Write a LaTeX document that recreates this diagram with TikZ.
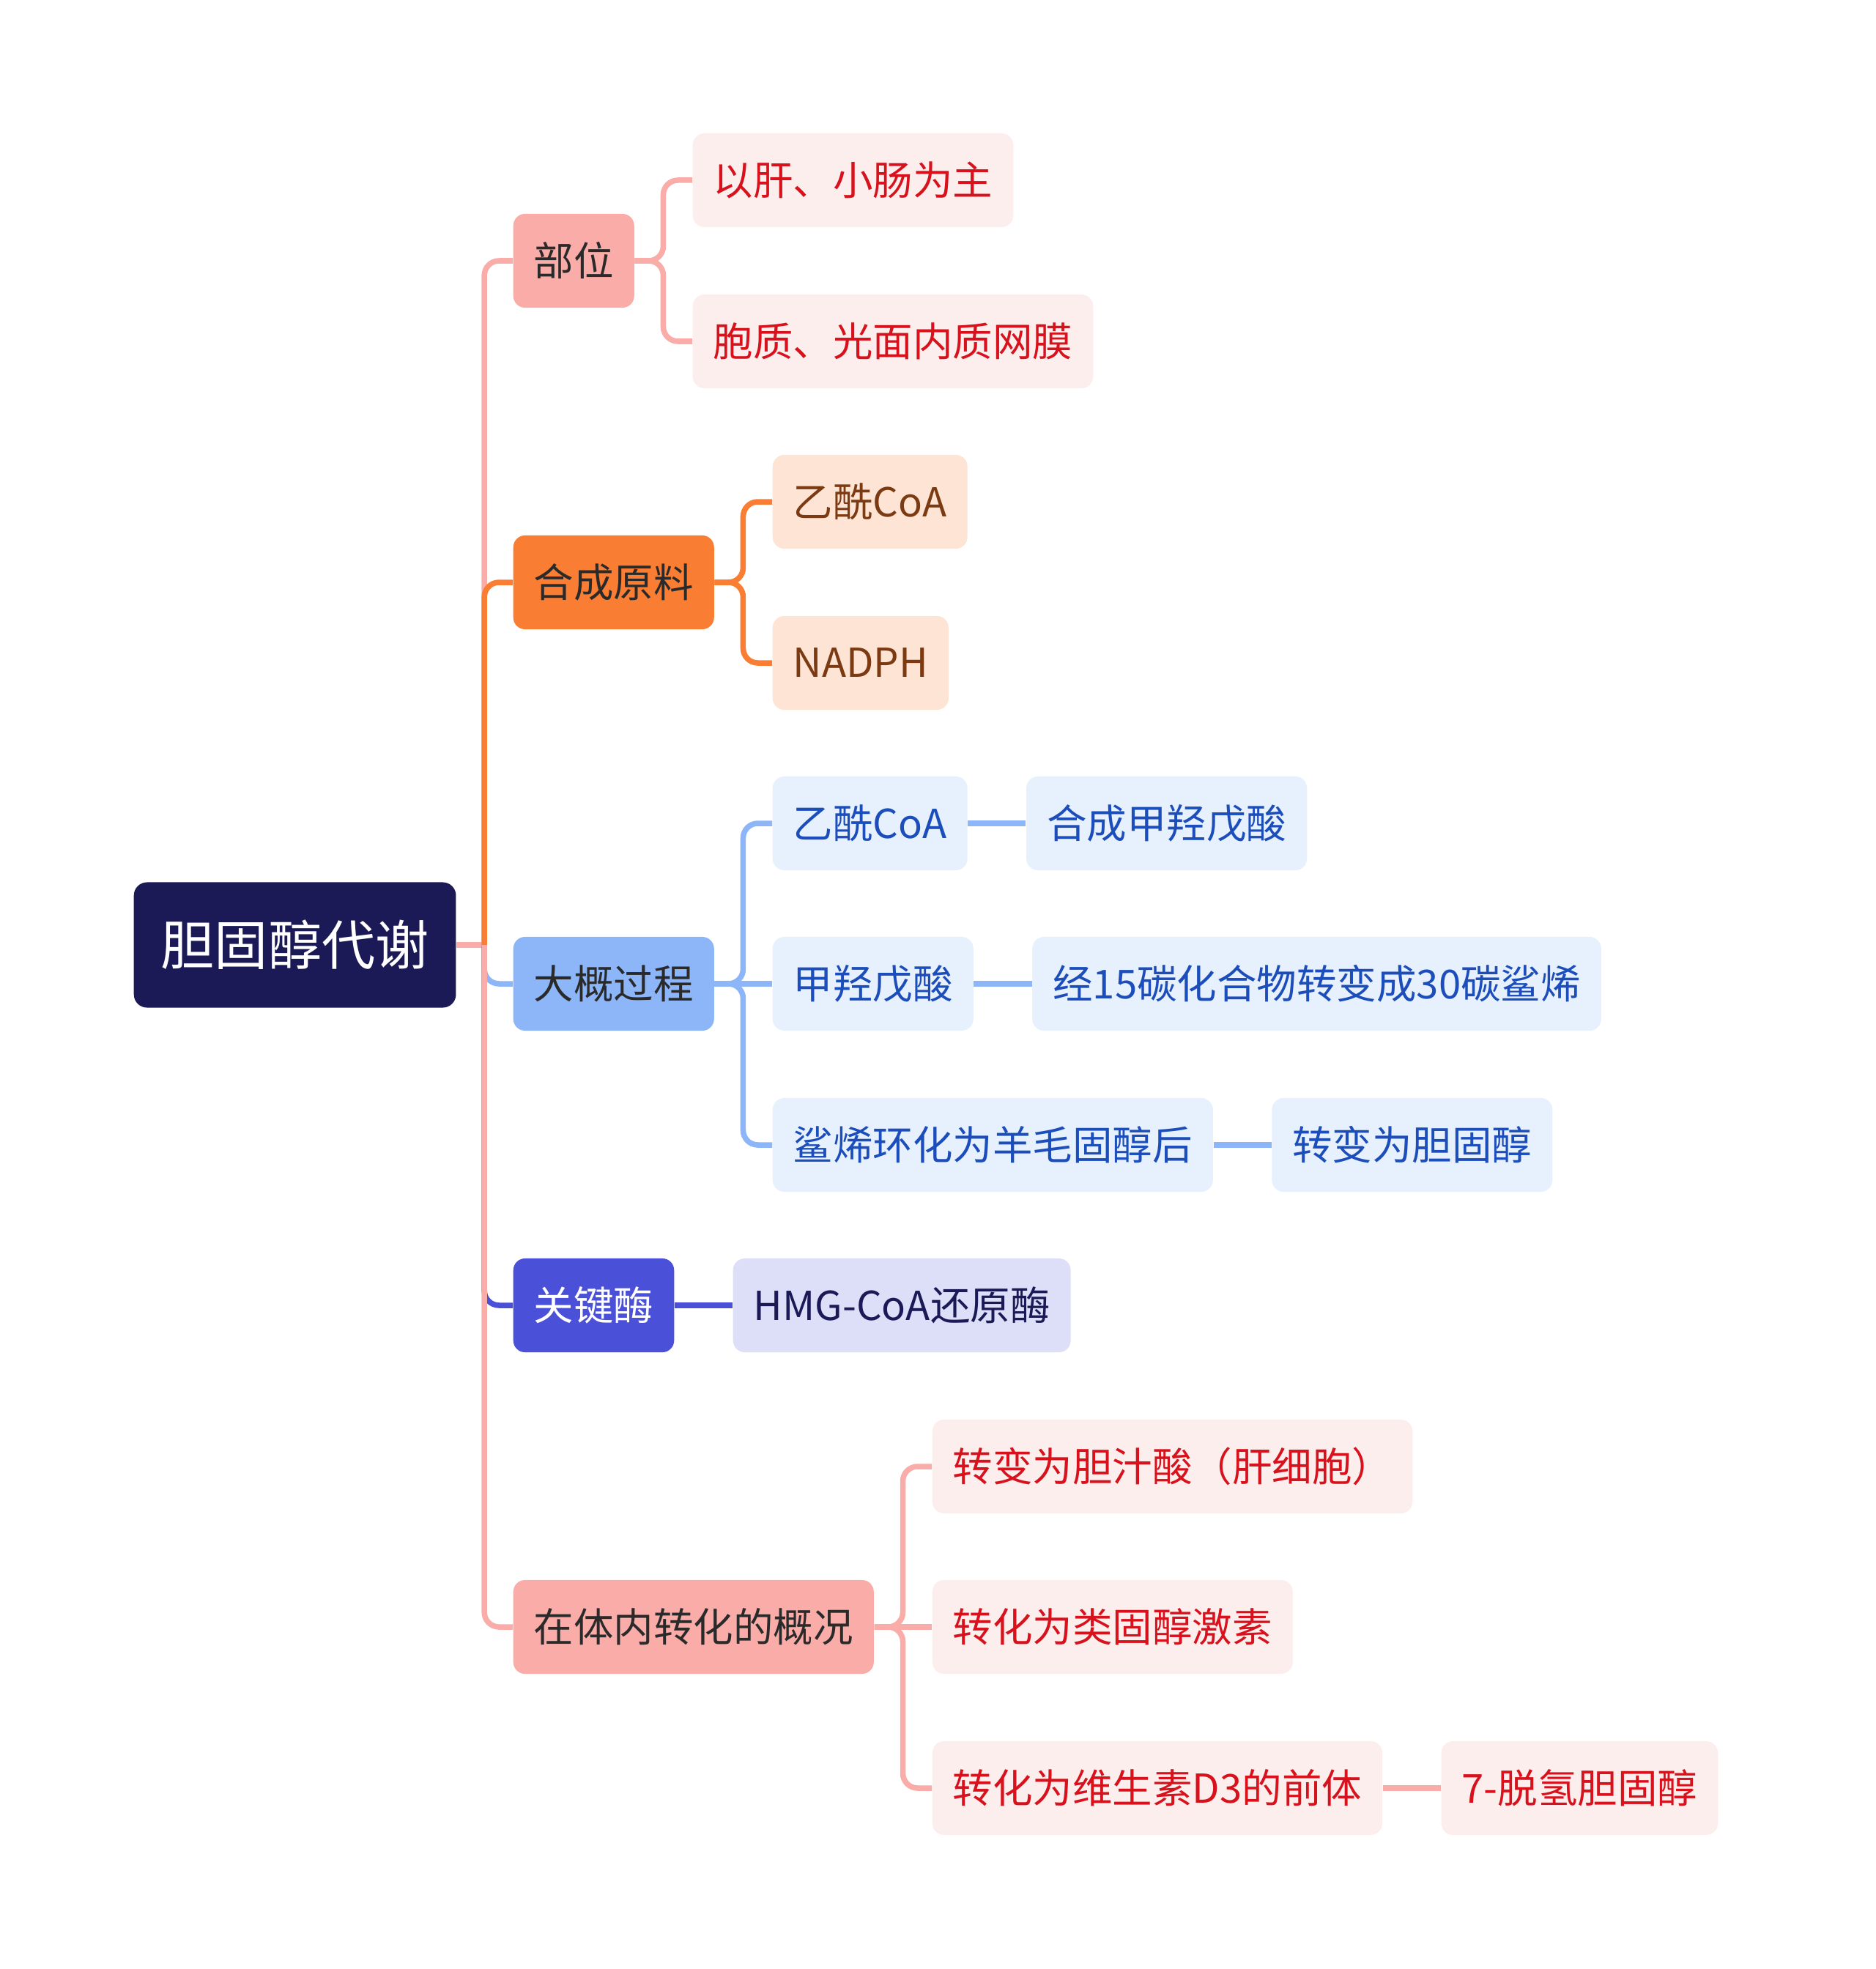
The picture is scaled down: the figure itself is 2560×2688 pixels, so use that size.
\documentclass[tikz,border=0pt]{standalone}
\usepackage{fontspec}
\setmainfont{Noto Sans CJK SC}
\usepackage{tikz}
\usetikzlibrary{positioning, calc}
\definecolor{dz-navy}{HTML}{1B1A57}
\definecolor{dz-pink}{HTML}{F9ACA8}
\definecolor{dz-orange}{HTML}{F97E34}
\definecolor{dz-blue}{HTML}{8DB6F8}
\definecolor{dz-indigo}{HTML}{4B50D8}
\definecolor{dz-dark}{HTML}{2A2A2A}
\definecolor{dz-pinklight}{HTML}{FDEEEE}
\definecolor{dz-red}{HTML}{D8121C}
\definecolor{dz-orangelight}{HTML}{FEE4D5}
\definecolor{dz-brown}{HTML}{7B3A12}
\definecolor{dz-bluelight}{HTML}{E7F0FD}
\definecolor{dz-bluetext}{HTML}{1B4DBB}
\definecolor{dz-indigolight}{HTML}{DDDEF8}

\begin{document}
\begin{tikzpicture}[
	x=0.01cm, y=-0.01cm,
	rootbox/.style={
		fill=dz-navy, text=white, anchor=west,
		rounded corners=0.18cm, minimum height=1.71cm, inner xsep=0.37cm,
		font=\fontsize{20.8}{25}\selectfont
	},
	topic/.style={
		anchor=west, rounded corners=0.16cm,
		minimum height=1.28cm, inner xsep=0.28cm,
		font=\fontsize{15.5}{18}\selectfont
	},
	mainpk/.style={topic, fill=dz-pink, text=dz-dark},
	mainor/.style={topic, fill=dz-orange, text=dz-dark},
	mainbl/.style={topic, fill=dz-blue, text=dz-dark},
	mainin/.style={topic, fill=dz-indigo, text=white},
	leafpk/.style={topic, fill=dz-pinklight, text=dz-red},
	leafor/.style={topic, fill=dz-orangelight, text=dz-brown},
	leafbl/.style={topic, fill=dz-bluelight, text=dz-bluetext},
	leafin/.style={topic, fill=dz-indigolight, text=dz-navy},
	link/.style={line width=0.075cm, rounded corners=0.2cm},
	linkpk/.style={link, draw=dz-pink},
	linkor/.style={link, draw=dz-orange},
	linkbl/.style={link, draw=dz-blue},
	linkin/.style={link, draw=dz-indigo}
	]
	
	\useasboundingbox (0,0) rectangle (2560,2688);
	
	% root and main topics
	\node[rootbox] (root) at (182,1290) {胆固醇代谢};
	\node[mainpk] (bw) at (700,356) {部位};
	\node[mainor] (yl) at (700,795) {合成原料};
	\node[mainbl] (gc) at (700,1343) {大概过程};
	\node[mainin] (mj) at (700,1782) {关键酶};
	\node[mainpk] (zh) at (700,2221) {在体内转化的概况};
	
	% subtopics
	\node[leafpk] (bw1) at (945,246) {以肝、小肠为主};
	\node[leafpk] (bw2) at (945,466) {胞质、光面内质网膜};
	
	\node[leafor] (yl1) at (1054,685) {乙酰CoA};
	\node[leafor] (yl2) at (1054,905) {NADPH};
	
	\node[leafbl] (gc1) at (1054,1124) {乙酰CoA};
	\node[leafbl, right=0.79cm of gc1] (gc1a) {合成甲羟戊酸};
	\node[leafbl] (gc2) at (1054,1343) {甲羟戊酸};
	\node[leafbl, right=0.79cm of gc2] (gc2a) {经15碳化合物转变成30碳鲨烯};
	\node[leafbl] (gc3) at (1054,1563) {鲨烯环化为羊毛固醇后};
	\node[leafbl, right=0.79cm of gc3] (gc3a) {转变为胆固醇};
	
	\node[leafin] (mj1) at (1000,1782) {HMG-CoA还原酶};
	
	\node[leafpk] (zh1) at (1272,2002) {转变为胆汁酸（肝细胞）};
	\node[leafpk] (zh2) at (1272,2221) {转化为类固醇激素};
	\node[leafpk] (zh3) at (1272,2441) {转化为维生素D3的前体};
	\node[leafpk, right=0.79cm of zh3] (zh3a) {7-脱氢胆固醇};
	
	% branches from the root
	\coordinate (rj) at ($(root.east)+(38,0)$);
	\draw[linkpk] (root.east) -- (rj);
	\draw[linkpk] (rj) |- (bw.west);
	\draw[linkor] (rj) |- (yl.west);
	\draw[linkbl] (rj) |- (gc.west);
	\draw[linkin] (rj) |- (mj.west);
	\draw[linkpk] (rj) |- (zh.west);
	
	% branches from the main topics
	\foreach \p/\c/\s in {bw/bw1/linkpk, bw/bw2/linkpk, yl/yl1/linkor, yl/yl2/linkor,
		gc/gc1/linkbl, gc/gc3/linkbl, zh/zh1/linkpk, zh/zh3/linkpk}{
		\coordinate (j) at ($(\p.east)+(39,0)$);
		\draw[\s] (\p.east) -- (j) |- (\c.west);
	}
	
	% straight links on the same row
	\draw[linkbl] (gc.east) -- (gc2.west);
	\draw[linkin] (mj.east) -- (mj1.west);
	\draw[linkpk] (zh.east) -- (zh2.west);
	\draw[linkbl] (gc1.east) -- (gc1a.west);
	\draw[linkbl] (gc2.east) -- (gc2a.west);
	\draw[linkbl] (gc3.east) -- (gc3a.west);
	\draw[linkpk] (zh3.east) -- (zh3a.west);
	
\end{tikzpicture}
\end{document}
